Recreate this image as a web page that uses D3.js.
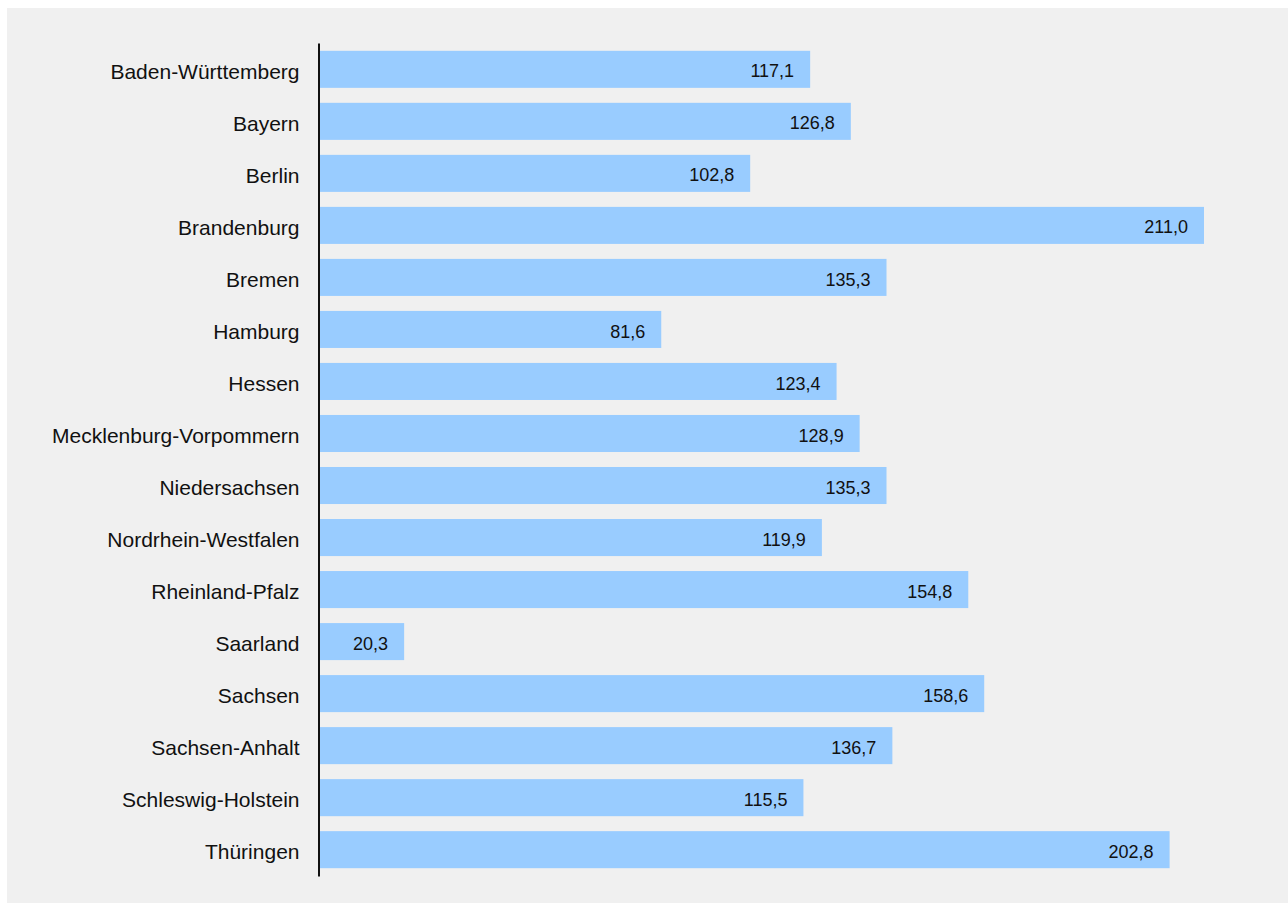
<!DOCTYPE html>
<html>
<head>
<meta charset="utf-8">
<script src="https://cdn.jsdelivr.net/npm/d3@7/dist/d3.min.js"></script>
<style>
  body { margin: 0; background: #ffffff; }
  svg { display: block; }
  text { font-family: "Liberation Sans", Arial, sans-serif; fill: #111; }
</style>
</head>
<body>
<div id="chart"></div>
<script>
// Data
var states = ["Baden-Württemberg", "Bayern", "Berlin", "Brandenburg", "Bremen", "Hamburg", "Hessen",
  "Mecklenburg-Vorpommern", "Niedersachsen", "Nordrhein-Westfalen", "Rheinland-Pfalz", "Saarland",
  "Sachsen", "Sachsen-Anhalt", "Schleswig-Holstein", "Thüringen"];
var values = [117.1, 126.8, 102.8, 211.0, 135.3, 81.6, 123.4, 128.9, 135.3, 119.9, 154.8, 20.3,
  158.6, 136.7, 115.5, 202.8];

var width = 1288, height = 903;

var svg = d3.select("#chart")
  .append("svg")
  .attr("width", width)
  .attr("height", height);

// panel background
svg.append("rect")
  .attr("x", 7)
  .attr("y", 8)
  .attr("width", width - 7)
  .attr("height", height - 8)
  .attr("fill", "#f0f0f0");

// Scales
var xScale = d3.scaleLinear()
  .domain([0, 211])
  .range([319, 1204]);

var yScale = d3.scaleBand()
  .domain(states)
  .range([43, 876])
  .paddingInner(0.288)
  .paddingOuter(0.15);

var data = states.map(function(s, i) { return { name: s, value: values[i] }; });

// Bars
svg.selectAll(".bar")
  .data(data)
  .enter()
  .append("rect")
  .attr("class", "bar")
  .attr("x", xScale(0))
  .attr("y", function(d) { return yScale(d.name); })
  .attr("width", function(d) { return xScale(d.value) - xScale(0); })
  .attr("height", yScale.bandwidth())
  .attr("fill", "#99ccff");

// Value labels inside bars
svg.selectAll(".val")
  .data(data)
  .enter()
  .append("text")
  .attr("class", "val")
  .attr("x", function(d) { return xScale(d.value) - 16; })
  .attr("y", function(d) { return yScale(d.name) + yScale.bandwidth() / 2; })
  .attr("dy", "0.45em")
  .attr("text-anchor", "end")
  .style("font-size", "18px")
  .text(function(d) { return d.value.toFixed(1).replace(".", ","); });

// Y axis (line + labels, no ticks)
var yAxis = d3.axisLeft(yScale).tickSize(0).tickPadding(19);

var gy = svg.append("g")
  .attr("class", "yaxis")
  .attr("transform", "translate(" + 318.5 + ",0)")
  .call(yAxis);

gy.select(".domain")
  .attr("stroke", "#111")
  .attr("stroke-width", 2);

gy.selectAll("text")
  .attr("dy", "0.45em")
  .style("font-size", "21px")
  .style("font-family", "'Liberation Sans', Arial, sans-serif")
  .attr("fill", "#111");
</script>
</body>
</html>
